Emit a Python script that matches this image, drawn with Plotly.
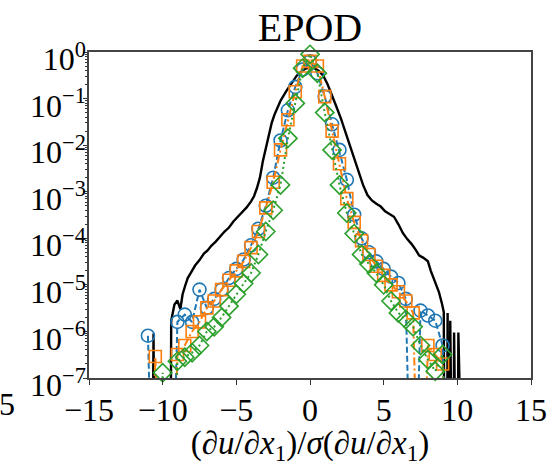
import numpy as np
import plotly.graph_objects as go

# ---- reference PDF (black solid line), bin centres and values ----
ref_x = [-11.0, -10.75, -10.62, -10.5, -9.5, -9.42, -9.2, -9.0, -8.8, -8.65,
         -8.5, -8.3, -8.05, -7.8, -7.5, -7.2, -6.95, -6.7, -6.4, -6.1,
         -5.8, -5.5, -5.2, -4.9, -4.6, -4.3, -4.0, -3.8, -3.6, -3.4,
         -3.2, -3.0, -2.8, -2.6, -2.4, -2.2, -2.0, -1.6, -1.2, -0.9,
         -0.6, -0.3, 0.0, 0.3, 0.6, 0.9, 1.2, 1.5, 1.8, 2.1,
         2.4, 2.7, 3.0, 3.3, 3.6, 3.9, 4.2, 4.5, 4.8, 5.1,
         5.4, 5.7, 6.0, 6.3, 6.6, 6.9, 7.2, 7.4, 7.7, 8.0,
         8.2, 8.35, 8.55, 8.75, 8.97, 9.08, 9.15, 9.28, 9.34, 9.4,
         9.47, 9.52, 9.58, 9.72, 9.78, 9.84, 10.0, 10.07, 10.13, 10.5]
ref_pdf = [0, 0, 9.0e-7, 0, 0, 1.7e-6, 3.8e-6, 4.6e-6, 3.0e-6, 6.2e-6,
           9.0e-6, 1.4e-5, 1.9e-5, 2.6e-5, 3.4e-5, 4.7e-5, 5.5e-5, 6.9e-5, 8.5e-5, 1.1e-4,
           1.4e-4, 1.7e-4, 2.3e-4, 2.9e-4, 3.6e-4, 4.6e-4, 6.2e-4, 8.0e-4, 1.2e-3, 2.0e-3,
           4.5e-3, 8.5e-3, 1.7e-2, 3.0e-2, 4.6e-2, 6.6e-2, 9.0e-2, 0.147, 0.23, 0.31,
           0.38, 0.44, 0.47, 0.45, 0.39, 0.31, 0.2, 0.12, 0.066, 0.037,
           0.019, 9.5e-3, 5.2e-3, 2.5e-3, 1.4e-3, 8.5e-4, 6.5e-4, 5.5e-4, 4.8e-4, 3.8e-4,
           3.3e-4, 2.9e-4, 2.0e-4, 1.3e-4, 9.6e-5, 7.5e-5, 5.5e-5, 4.3e-5, 3.8e-5, 3.2e-5,
           2.0e-5, 1.5e-5, 1.1e-5, 7.0e-6, 3.8e-6, 2.6e-6, 0, 0, 2.5e-6, 0,
           0, 1.7e-6, 0, 0, 9.5e-7, 0, 0, 9.5e-7, 0, 0]

# ---- EPOD reconstructions: common bin centres ----
bins = [-11.0, -10.5, -10.0, -9.5, -9.0, -8.5, -8.0, -7.5, -7.0, -6.5,
        -6.0, -5.5, -5.0, -4.5, -4.0, -3.5, -3.0, -2.5, -2.0, -1.5,
        -1.0, -0.5, 0.0, 0.5, 1.0, 1.5, 2.0, 2.5, 3.0, 3.5,
        4.0, 4.5, 5.0, 5.5, 6.0, 6.5, 7.0, 7.5, 8.0, 8.5,
        9.0, 9.5, 10.0]

pdf_blue = [8.1e-7, 0, 0, 0, 1.6e-6, 2.3e-6, 1.6e-6, 7.9e-6, 3.2e-6, 5.0e-6,
            7.9e-6, 1.4e-5, 2.2e-5, 3.5e-5, 7.1e-5, 1.6e-4, 5.0e-4, 2.0e-3, 1.26e-2, 5.6e-2,
            0.178, 0.42, 0.63, 0.35, 0.11, 0.028, 7.9e-3, 1.8e-3, 3.2e-4, 1.0e-4,
            5.0e-5, 3.2e-5, 2.2e-5, 1.5e-5, 1.1e-5, 5.0e-6, 0, 2.8e-6, 2.2e-6, 1.7e-6,
            5.0e-7, 0, 0]

pdf_orange = [0, 2.9e-7, 0, 0, 3.2e-7, 5.0e-7, 1.0e-6, 1.6e-6, 3.2e-6, 4.5e-6,
              7.9e-6, 1.26e-5, 2.0e-5, 3.2e-5, 6.3e-5, 1.4e-4, 4.5e-4, 1.6e-3, 7.9e-3, 0.035,
              0.14, 0.5, 0.63, 0.5, 0.11, 0.02, 4.0e-3, 7.1e-4, 2.2e-4, 8.9e-5,
              4.5e-5, 2.5e-5, 1.6e-5, 1.0e-5, 7.1e-6, 4.5e-6, 2.5e-6, 0, 5.0e-7, 3.2e-7,
              2.0e-7, 0, 0]

pdf_green = [0, 0, 1.3e-7, 0, 2.3e-7, 2.8e-7, 3.5e-7, 5.0e-7, 1.0e-6, 1.26e-6,
             2.0e-6, 3.5e-6, 6.3e-6, 1.07e-5, 1.8e-5, 4.5e-5, 1.4e-4, 4.0e-4, 1.4e-3, 0.014,
             0.079, 0.45, 0.89, 0.35, 0.05, 7.9e-3, 1.4e-3, 3.5e-4, 1.26e-4, 4.5e-5,
             2.8e-5, 1.8e-5, 1.0e-5, 4.5e-6, 2.5e-6, 1.8e-6, 1.26e-6, 5.0e-7, 2.5e-7, 1.4e-7,
             3.2e-7, 0, 0]

x_ticks = [-15, -10, -5, 0, 5, 10, 15]
y_exponents = [-7, -6, -5, -4, -3, -2, -1, 0]

FONT = "Liberation Serif, Times New Roman, serif"
C_BLUE, C_ORANGE, C_GREEN = "#1f77b4", "#ff7f0e", "#2ca02c"
FLOOR = 1e-12  # empty bins drawn as drops to the bottom (clipped like a log plot)


def floored(vals):
    v = np.asarray(vals, dtype=float)
    return np.where(v > 0, v, FLOOR)


def positive(vals):
    return [v if v > 0 else None for v in vals]


fig = go.Figure()

fig.add_trace(go.Scatter(x=ref_x, y=floored(ref_pdf), mode="lines",
                         line=dict(color="black", width=2.4), showlegend=False))

series = [
    (pdf_blue, C_BLUE, "6px,3px", "circle-open", 13),
    (pdf_orange, C_ORANGE, "8px,3px,2px,3px", "square-open", 12),
    (pdf_green, C_GREEN, "2px,3px", "diamond-open", 14),
]
for vals, col, dash, sym, size in series:
    fig.add_trace(go.Scatter(x=bins, y=floored(vals), mode="lines",
                             line=dict(color=col, width=2, dash=dash),
                             showlegend=False))
    fig.add_trace(go.Scatter(x=bins, y=positive(vals), mode="markers",
                             marker=dict(symbol=sym, size=size, color=col,
                                         line=dict(color=col, width=1.6)),
                             cliponaxis=False, showlegend=False))

minor_vals = [k * 10.0 ** e for e in range(-7, 0) for k in range(2, 10)]

fig.update_layout(
    width=559, height=466,
    margin=dict(l=89, r=16, t=52, b=81),
    paper_bgcolor="white", plot_bgcolor="white",
    font=dict(family=FONT, color="black", size=32),
    title=dict(text="EPOD", x=0.5, xref="paper", xanchor="center",
               y=1, yref="paper", yanchor="bottom", pad=dict(b=11),
               font=dict(family=FONT, size=40, color="black")),
    xaxis=dict(range=[-15, 15], tickvals=x_ticks, ticks="outside", ticklen=5,
               tickwidth=1.2, tickcolor="#333", showline=True, linecolor="#444",
               linewidth=1.5, mirror=True, showgrid=False, zeroline=False,
               ticklabelstandoff=-2,
               tickfont=dict(family=FONT, size=32),
               title=dict(text="(<i>∂u</i>/<i>∂x</i><sub>1</sub>)/<i>σ</i>(<i>∂u</i>/<i>∂x</i><sub>1</sub>)",
                          font=dict(family=FONT, size=33), standoff=3)),
    yaxis=dict(type="log", range=[-7, 0],
               tickvals=[10.0 ** e for e in y_exponents],
               ticktext=["10<sup>%s</sup>" % (str(e).replace("-", "\u2212")) for e in y_exponents],
               ticks="outside", ticklen=4, tickwidth=1.2, tickcolor="#333",
               showline=True, linecolor="#444", linewidth=1.5, mirror=True,
               showgrid=False, zeroline=False, ticklabelshift=7,
               ticklabelstandoff=-9,
               tickfont=dict(family=FONT, size=32),
               minor=dict(tickvals=minor_vals, ticks="outside", ticklen=2,
                          tickwidth=1, tickcolor="#333", showgrid=False)),
    annotations=[dict(text="5", xref="paper", yref="paper", x=-0.163, y=-0.08,
                      xanchor="right", yanchor="middle", showarrow=False,
                      font=dict(family=FONT, size=32, color="black"))],
)

fig.write_html("out.html")
